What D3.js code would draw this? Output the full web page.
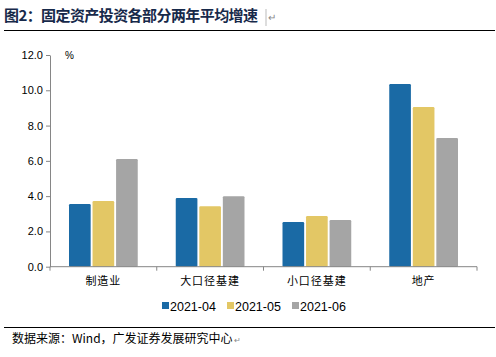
<!DOCTYPE html>
<html><head><meta charset="utf-8">
<script src="https://cdn.jsdelivr.net/npm/d3@7"></script>
<style>
body{margin:0;background:#fff;}
svg{display:block;}
</style></head>
<body><svg id="c" width="496" height="357"></svg>
<script>
const categories = ["制造业","大口径基建","小口径基建","地产"];
const seriesNames = ["2021-04","2021-05","2021-06"];
const apr = [3.55, 3.9, 2.53, 10.35];
const may = [3.72, 3.43, 2.87, 9.05];
const jun = [6.1, 4.0, 2.65, 7.3];
const yTicks = [0,2,4,6,8,10,12];
const colors = ["#1a6aa5","#e3c765","#a5a5a5"];
const seriesVals = [apr, may, jun];

const svg = d3.select("#c");
const cjk = "'Noto Sans CJK SC', sans-serif";
const lat = "'Liberation Sans', Arial, sans-serif";

// title
const t = svg.append("text").attr("x",4).attr("y",21)
  .attr("font-family",cjk).attr("font-weight","bold").attr("font-size",15)
  .attr("fill","#17294a").attr("textLength",254).attr("lengthAdjust","spacing")
  .text("图2：固定资产投资各部分两年平均增速");
svg.append("line").attr("x1",266).attr("x2",266).attr("y1",9).attr("y2",26).attr("stroke","#aaa").attr("stroke-width",0.8);
svg.append("text").attr("x",268).attr("y",21).attr("font-family",cjk).attr("font-size",10).attr("fill","#888").text("↵");
svg.append("line").attr("x1",4).attr("x2",495).attr("y1",30.5).attr("y2",30.5).attr("stroke","#000").attr("stroke-width",1);

// scales
const x = d3.scaleBand().domain(categories).range([50,477]).padding(0);
const y = d3.scaleLinear().domain([0,12]).range([266.7,55]);
const bw = x.bandwidth();
const x1 = d3.scaleBand().domain(seriesNames).range([bw*0.178, bw*0.822]).paddingInner(0.08);

// y axis
const yAxis = d3.axisLeft(y).tickValues(yTicks).tickFormat(d3.format(".1f")).tickSize(4).tickSizeOuter(0);
const gy = svg.append("g").attr("transform","translate(50,0)").call(yAxis);
gy.select(".domain").attr("stroke","#868686");
gy.selectAll(".tick line").attr("stroke","#868686");
gy.selectAll(".tick text").attr("font-family",lat).attr("font-size",11).attr("fill","#000").attr("x",-7);

// bars
const groups = svg.append("g").selectAll("g").data(categories).join("g")
  .attr("transform",d=>`translate(${x(d)},0)`);
groups.selectAll("rect").data((d,i)=>seriesNames.map((s,j)=>({s,j,v:seriesVals[j][i]})))
  .join("rect")
  .attr("x",d=>x1(d.s)).attr("width",x1.bandwidth())
  .attr("y",d=>y(d.v)).attr("height",d=>y(0)-y(d.v))
  .attr("rx",1.2)
  .attr("fill",d=>colors[d.j]);

// x axis
const gx = svg.append("g").attr("transform",`translate(0,${y(0)})`);
gx.append("line").attr("x1",50).attr("x2",477).attr("stroke","#868686");
const bounds = [...categories.map(c=>x(c)), x.range()[1]];
gx.selectAll("line.tk").data(bounds).join("line").attr("class","tk")
  .attr("x1",d=>d).attr("x2",d=>d).attr("y1",0).attr("y2",4).attr("stroke","#868686");
gx.selectAll("text").data(categories).join("text")
  .attr("x",d=>x(d)+bw/2).attr("y",18).attr("text-anchor","middle")
  .attr("font-family",cjk).attr("font-size",11).attr("letter-spacing",1).attr("fill","#000").text(d=>d);

// unit
svg.append("text").attr("x",65).attr("y",59).attr("font-family",lat).attr("font-size",10).attr("fill","#000").text("%");

// legend
const legX = [162, 227, 292];
const lg = svg.append("g").selectAll("g").data(seriesNames).join("g")
  .attr("transform",(d,i)=>`translate(${legX[i]},306)`);
lg.append("rect").attr("x",0).attr("y",-4).attr("width",7).attr("height",7).attr("fill",(d,i)=>colors[i]);
lg.append("text").attr("x",8).attr("y",4.5).attr("font-family",lat).attr("font-size",12.5).attr("fill","#000").text(d=>d);

// footer
svg.append("line").attr("x1",4).attr("x2",495).attr("y1",327.5).attr("y2",327.5).attr("stroke","#000").attr("stroke-width",1);
const ft = svg.append("text").attr("x",12).attr("y",343).attr("font-family",cjk).attr("font-size",12).attr("fill","#000")
  .text("数据来源：Wind，广发证券发展研究中心");
const fEnd = 12 + ft.node().getComputedTextLength();
svg.append("text").attr("x",fEnd+1).attr("y",343).attr("font-family",cjk).attr("font-size",8).attr("fill","#888").text("↵");
</script></body></html>
